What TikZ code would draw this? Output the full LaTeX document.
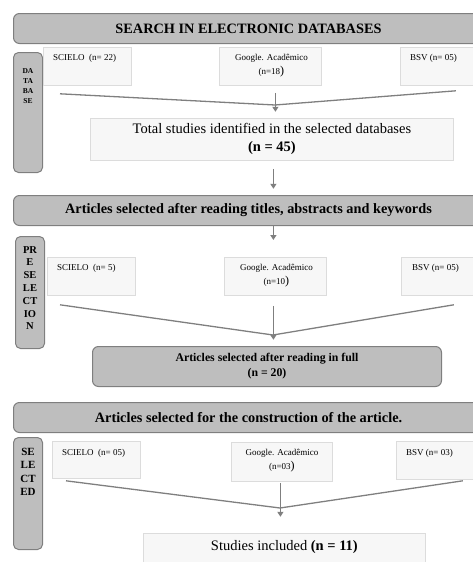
\documentclass[tikz,border=0pt]{standalone}
\usepackage{fontspec}
\setmainfont{Liberation Serif}
\usetikzlibrary{arrows.meta}
\definecolor{boxgray}{HTML}{BEBEBE}
\definecolor{edgegray}{HTML}{7F7F7F}
\definecolor{srcfill}{HTML}{F7F7F7}
\definecolor{srcedge}{HTML}{DCDCDC}

\begin{document}
\begin{tikzpicture}[x=1pt, y=-1pt,
                    head/.style = {draw=edgegray, fill=boxgray, rounded corners=6pt, line width=1pt,
                                   minimum width=470pt, minimum height=30pt, anchor=north west,
                                   font=\fontsize{14.3}{16}\selectfont\bfseries},
                    side/.style = {draw=edgegray, fill=boxgray, rounded corners=5pt, line width=1pt,
                                   minimum width=29pt, anchor=north west},
                    sidetxt/.style = {align=center, anchor=north, inner sep=0pt},
                    src/.style = {draw=srcedge, fill=srcfill, line width=0.8pt,
                                  minimum height=38pt, anchor=north west},
                    srctxt/.style = {inner sep=0pt, font=\fontsize{9}{14.5}\selectfont},
                    total/.style = {draw=srcedge, fill=srcfill, line width=0.8pt, anchor=north west, align=center},
                    link/.style = {draw=edgegray, line width=1.3pt},
                    arr/.style = {link, -{Triangle[width=6pt,length=5pt]}}]
    \clip (0,0) rectangle (473,562);

    % search in databases
    \node[head] (hd1) at (13,13) {SEARCH IN ELECTRONIC DATABASES};
    \node[side, minimum height=120pt] (db) at (13,52) {};
    \node[sidetxt, font=\fontsize{7.5}{10}\selectfont\bfseries] (dbt) at ([shift={(0,16)}]db.north) {DA\\TA\\BA\\SE};

    \node[src, minimum width=88pt] (sc1) at (43,47) {};
    \node[src, minimum width=102pt] (go1) at (219,47) {};
    \node[src, minimum width=74pt] (bsv1) at (400,47) {};
    \node[srctxt, anchor=north west] (sc1t) at ([shift={(10,7)}]sc1.north west) {SCIELO\ \ (n= 22)};
    \node[srctxt, anchor=north, align=center] (go1t) at ([shift={(1,7)}]go1.north) {Google. Acadêmico\\(n=18{\fontsize{12}{12}\selectfont)}};
    \node[srctxt, anchor=north west] (bsv1t) at ([shift={(10,7)}]bsv1.north west) {BSV (n= 05)};

    \coordinate (j1) at (275,105);
    \draw[link] ([shift={(17,8)}]sc1.south west) -- (j1);
    \draw[link] ([shift={(-19,5)}]bsv1.south east) -- (j1);
    \draw[arr] ([shift={(5,7)}]go1.south) -- ([shift={(5,26)}]go1.south);

    \node[total, minimum width=363pt, minimum height=42pt, font=\fontsize{14.5}{18}\selectfont] (tot) at (90,118)
        {Total studies identified in the selected databases\\\textbf{(n = 45)}};
    \draw[arr] ([shift={(1.5,8)}]tot.south) -- ([shift={(1.5,28)}]tot.south);

    % preselection
    \node[head] (hd2) at (13,195) {Articles selected after reading titles, abstracts and keywords};
    \path (tot.south |- hd2.south) coordinate (a3);
    \draw[arr] ([xshift=1.5pt]a3) -- ([shift={(1.5,14)}]a3);
    \node[side, minimum height=112pt] (pre) at (15,236) {};
    \node[sidetxt, font=\fontsize{10.5}{12.8}\selectfont\bfseries] (pret) at ([shift={(0,10)}]pre.north) {PR\\E\\SE\\LE\\CT\\IO\\N};

    \node[src, minimum width=88pt] (sc2) at (47,257) {};
    \node[src, minimum width=102pt] (go2) at (224,257) {};
    \node[src, minimum width=73pt] (bsv2) at (401,257) {};
    \node[srctxt, anchor=north west] (sc2t) at ([shift={(10,7)}]sc2.north west) {SCIELO\ \ (n= 5)};
    \node[srctxt, anchor=north, align=center] (go2t) at ([shift={(1,7)}]go2.north) {Google. Acadêmico\\(n=10{\fontsize{12}{12}\selectfont)}};
    \node[srctxt, anchor=north west] (bsv2t) at ([shift={(11,7)}]bsv2.north west) {BSV (n= 05)};

    \coordinate (j2) at (273,335);
    \draw[link] ([shift={(13,9)}]sc2.south west) -- (j2);
    \draw[link] ([shift={(-21,9)}]bsv2.south east) -- (j2);
    \draw[arr] ([shift={(-2,10)}]go2.south) -- ([shift={(-2,44)}]go2.south);

    \node[total, draw=edgegray, fill=boxgray, rounded corners=6pt, line width=1pt, minimum width=349pt,
          minimum height=40pt, font=\fontsize{11.8}{15}\selectfont\bfseries] (full) at (92,346)
        {Articles selected after reading in full\\(n = 20)};

    % selected
    \node[head] (hd3) at (13,402) {Articles selected for the construction of the article.};
    \node[side, minimum height=112pt] (sel) at (13,437) {};
    \node[sidetxt, font=\fontsize{11}{13.3}\selectfont\bfseries] (selt) at ([shift={(0,11)}]sel.north) {SE\\LE\\CT\\ED};

    \node[src, minimum width=88pt, minimum height=37pt] (sc3) at (52,441) {};
    \node[src, minimum width=101pt, minimum height=39pt] (go3) at (231,442) {};
    \node[src, minimum width=77pt] (bsv3) at (396,441) {};
    \node[srctxt, anchor=north west] (sc3t) at ([shift={(10,8)}]sc3.north west) {SCIELO\ \ (n= 05)};
    \node[srctxt, anchor=north, align=center] (go3t) at ([shift={(0,7)}]go3.north) {Google. Acadêmico\\(n=03{\fontsize{12}{12}\selectfont)}};
    \node[srctxt, anchor=north west] (bsv3t) at ([shift={(10,8)}]bsv3.north west) {BSV (n= 03)};

    \coordinate (j3) at (280,508);
    \draw[link] ([shift={(14,2)}]sc3.south west) -- (j3);
    \draw[link] ([shift={(-11,1)}]bsv3.south east) -- (j3);
    \draw[arr] ([shift={(-1.5,1)}]go3.south) -- ([shift={(-1.5,35)}]go3.south);

    \node[total, minimum width=282pt, minimum height=45pt] (inc) at (143,533) {};
    \node[inner sep=0pt, font=\fontsize{14.5}{16}\selectfont] (inct) at ([shift={(0,14)}]inc.north)
        {Studies included \textbf{(n = 11)}};
\end{tikzpicture}
\end{document}
